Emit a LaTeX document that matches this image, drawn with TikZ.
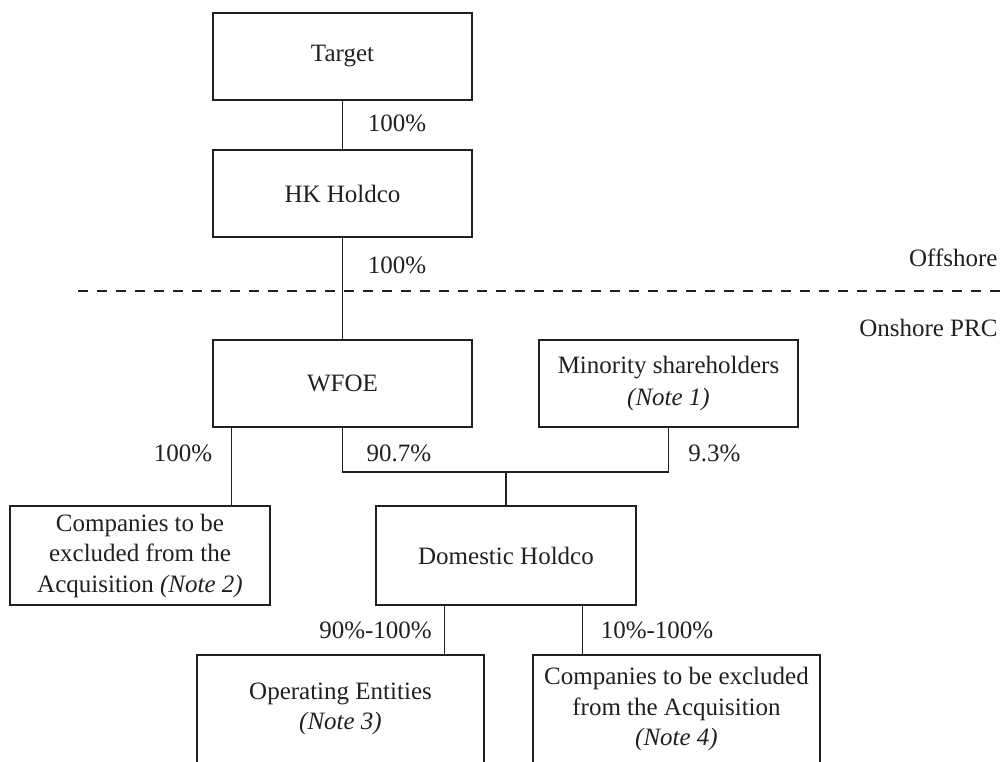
\documentclass[tikz,border=0pt]{standalone}
\usepackage{fontspec}
\setmainfont{Liberation Serif}
\definecolor{ink}{HTML}{231F20}
\begin{document}
\begin{tikzpicture}[x=0.4pt,y=-0.4pt,
  box/.style={draw=ink,line width=0.5pt,inner sep=0pt,align=center,text=ink,
    font=\fontsize{10}{12.2}\selectfont},
  lbl/.style={inner sep=0pt,text=ink,font=\fontsize{10}{12}\selectfont},
  link/.style={draw=ink,line width=0.5pt}]
\useasboundingbox (0,0) rectangle (1001,761);
\clip (0,0) rectangle (1001,761);
\node[box,minimum width=103.6pt,minimum height=34.8pt] (T) at (342.5,56.5) {Target};
\node[box,minimum width=103.6pt,minimum height=34.8pt] (HK) at (342.5,193.5) {HK Holdco};
\node[box,minimum width=103.6pt,minimum height=34.8pt] (W) at (342.5,383.5) {WFOE};
\node[box,minimum width=103.6pt,minimum height=34.8pt] (M) at (668.5,383.5) {Minority shareholders\\[0.5pt]\textit{(Note 1)}};
\node[box,minimum width=104pt,minimum height=39.6pt] (CL) at (140,555.5) {Companies to be\\excluded from the\\Acquisition \textit{(Note 2)}};
\node[box,minimum width=104pt,minimum height=39.6pt] (D) at (506,555.5) {Domestic Holdco};
\node[box,minimum width=114.8pt,minimum height=43.2pt] (O) at (340.5,709) {Operating Entities\\\textit{(Note 3)}};
\node[box,minimum width=114.8pt,minimum height=43.2pt] (CR) at (676.5,709) {Companies to be excluded\\from the Acquisition\\\textit{(Note 4)}};

\draw[link] (T.south) -- (HK.north);
\draw[link] (HK.south) -- (W.north);
\draw[link] ([xshift=7.6pt]W.south west) coordinate (a) -- (a |- CL.north);
\coordinate (jn) at (506,472);
\draw[link] (W.south) |- (jn) -| (M.south);
\draw[link] (jn) -- (D.north);
\draw[link] ([xshift=27.6pt]D.south west) coordinate (b) -- (b |- O.north);
\draw[link] ([xshift=-21.6pt]D.south east) coordinate (c) -- (c |- CR.north);

\draw[draw=ink,line width=0.5pt,dash pattern=on 4pt off 3.6pt] (78,291) -- (1001,291);

\node[lbl] (p1) at (397,123) {100\%};
\node[lbl] (p2) at (397,265) {100\%};
\node[lbl] (p3) at (183,453) {100\%};
\node[lbl] (p4) at (399,453) {90.7\%};
\node[lbl] (p5) at (714.5,453) {9.3\%};
\node[lbl] (p6) at (375.5,630) {90\%-100\%};
\node[lbl] (p7) at (657,630) {10\%-100\%};
\node[lbl,anchor=east] (off) at (998,258) {Offshore};
\node[lbl,anchor=east] (on) at (998,328) {Onshore PRC};
\end{tikzpicture}
\end{document}
